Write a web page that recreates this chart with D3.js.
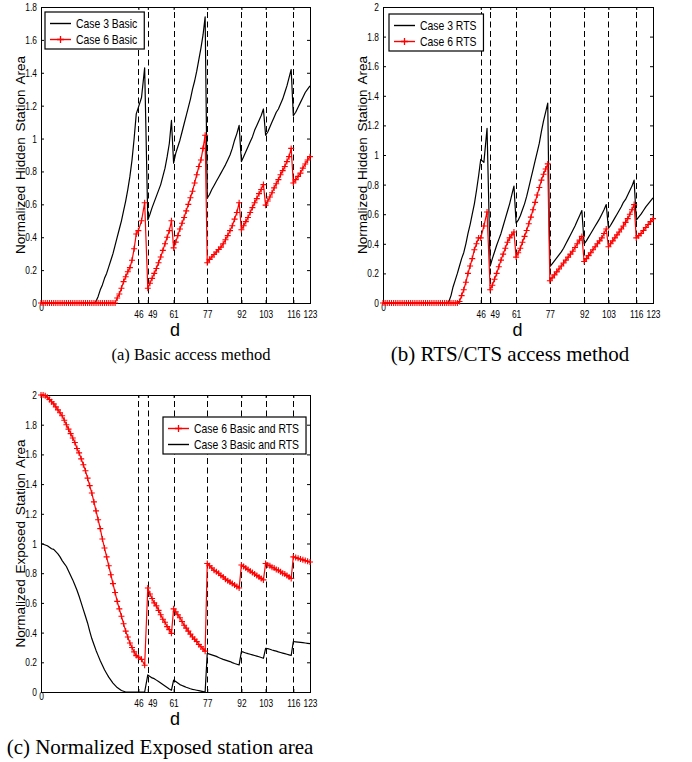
<!DOCTYPE html>
<html><head><meta charset="utf-8">
<script src="https://cdn.jsdelivr.net/npm/d3@7"></script>
<style>body{margin:0;background:#fff}svg{display:block}</style>
</head><body>
<svg id="chart" width="692" height="762"></svg>
<script>
// ---------- data ----------
const dValues = d3.range(0, 124);           // d = 0 .. 123
const xTickValues = [0, 46, 49, 61, 77, 92, 103, 116, 123];
const dashedD = [46, 49, 61, 77, 92, 103, 116];
const yTicksA = [0, 0.2, 0.4, 0.6, 0.8, 1, 1.2, 1.4, 1.6, 1.8];
const yTicksBC = [0, 0.2, 0.4, 0.6, 0.8, 1, 1.2, 1.4, 1.6, 1.8, 2];

const case3Basic = [
0,0,0,0,0,0,0,0,0,0,
0,0,0,0,0,0,0,0,0,0,
0,0,0,0,0,0,0.01,0.04,0.08,0.11,
0.15,0.18,0.22,0.26,0.30,0.35,0.40,0.45,0.50,0.56,
0.62,0.69,0.77,0.87,1.00,1.15,1.19,1.25,1.43,0.505,
0.54,0.58,0.615,0.65,0.685,0.72,0.77,0.82,0.89,0.97,
1.11,0.85,0.91,0.95,0.99,1.04,1.09,1.14,1.19,1.24,
1.30,1.35,1.41,1.48,1.55,1.63,1.74,0.637,0.66,0.69,
0.715,0.74,0.765,0.79,0.815,0.84,0.87,0.90,0.94,0.99,
1.03,1.08,0.86,0.89,0.92,0.95,0.98,1.01,1.05,1.08,
1.11,1.14,1.18,1.02,1.04,1.07,1.10,1.13,1.16,1.18,
1.21,1.24,1.28,1.32,1.37,1.42,1.14,1.16,1.19,1.22,
1.25,1.28,1.30,1.32];

const case6Basic = [
0,0,0,0,0,0,0,0,0,0,
0,0,0,0,0,0,0,0,0,0,
0,0,0,0,0,0,0,0,0,0,
0,0,0,0,0,0,0.03,0.055,0.09,0.13,
0.16,0.19,0.215,0.26,0.33,0.42,0.44,0.50,0.61,0.09,
0.12,0.15,0.18,0.21,0.245,0.28,0.32,0.36,0.40,0.44,
0.50,0.335,0.37,0.41,0.45,0.485,0.52,0.56,0.60,0.64,
0.68,0.73,0.78,0.83,0.87,0.94,1.02,0.245,0.265,0.28,
0.295,0.31,0.325,0.34,0.36,0.385,0.41,0.44,0.47,0.51,
0.55,0.61,0.445,0.47,0.495,0.52,0.55,0.58,0.61,0.635,
0.665,0.69,0.72,0.595,0.62,0.645,0.67,0.70,0.725,0.75,
0.78,0.805,0.83,0.86,0.89,0.94,0.73,0.75,0.77,0.79,
0.82,0.845,0.87,0.89];

const case3RTS = [
0,0,0,0,0,0,0,0,0,0,
0,0,0,0,0,0,0,0,0,0,
0,0,0,0,0,0,0,0,0,0,
0,0.01,0.05,0.11,0.155,0.20,0.25,0.30,0.34,0.40,
0.47,0.53,0.60,0.67,0.76,0.86,0.97,0.95,1.18,0.25,
0.30,0.345,0.39,0.43,0.47,0.52,0.57,0.62,0.67,0.73,
0.79,0.54,0.56,0.59,0.63,0.67,0.72,0.78,0.84,0.90,
0.96,1.02,1.08,1.16,1.23,1.29,1.35,0.245,0.265,0.285,
0.305,0.325,0.345,0.37,0.40,0.43,0.46,0.49,0.52,0.555,
0.59,0.625,0.40,0.42,0.445,0.47,0.495,0.52,0.545,0.57,
0.60,0.63,0.665,0.505,0.525,0.55,0.575,0.60,0.625,0.65,
0.68,0.70,0.73,0.76,0.79,0.83,0.56,0.58,0.60,0.625,
0.65,0.67,0.69,0.71];

const case6RTS = [
0,0,0,0,0,0,0,0,0,0,
0,0,0,0,0,0,0,0,0,0,
0,0,0,0,0,0,0,0,0,0,
0,0,0,0,0,0,0.01,0.05,0.09,0.14,
0.20,0.25,0.30,0.36,0.40,0.44,0.44,0.52,0.615,0.09,
0.12,0.16,0.20,0.245,0.29,0.33,0.37,0.41,0.44,0.46,
0.48,0.31,0.34,0.37,0.41,0.45,0.49,0.535,0.58,0.63,
0.68,0.73,0.78,0.83,0.87,0.905,0.94,0.15,0.17,0.19,
0.21,0.23,0.25,0.27,0.29,0.31,0.33,0.35,0.375,0.40,
0.425,0.45,0.28,0.30,0.32,0.34,0.36,0.38,0.40,0.42,
0.44,0.47,0.50,0.38,0.40,0.42,0.44,0.46,0.48,0.50,
0.52,0.545,0.57,0.60,0.63,0.665,0.44,0.455,0.47,0.49,
0.51,0.53,0.55,0.57];

const case6BasicRTS = [
2.00,2.00,1.995,1.985,1.97,1.955,1.94,1.92,1.90,1.88,
1.86,1.83,1.80,1.77,1.74,1.71,1.68,1.64,1.61,1.57,
1.53,1.49,1.44,1.39,1.34,1.28,1.22,1.16,1.10,1.03,
0.97,0.91,0.85,0.79,0.73,0.67,0.61,0.56,0.51,0.46,
0.41,0.37,0.33,0.30,0.27,0.245,0.235,0.22,0.18,0.70,
0.66,0.63,0.60,0.58,0.55,0.52,0.49,0.47,0.44,0.42,
0.395,0.56,0.54,0.52,0.50,0.475,0.45,0.43,0.41,0.39,
0.37,0.355,0.34,0.32,0.305,0.29,0.275,0.865,0.85,0.835,
0.82,0.81,0.80,0.785,0.775,0.76,0.75,0.74,0.73,0.72,
0.71,0.70,0.855,0.845,0.835,0.825,0.815,0.805,0.795,0.785,
0.775,0.765,0.755,0.865,0.855,0.85,0.84,0.835,0.825,0.82,
0.81,0.80,0.795,0.785,0.775,0.765,0.91,0.905,0.90,0.895,
0.89,0.885,0.88,0.875];

const case3BasicRTS = [
1.00,0.995,0.99,0.985,0.975,0.965,0.96,0.945,0.93,0.91,
0.885,0.865,0.845,0.815,0.785,0.755,0.72,0.685,0.645,0.60,
0.555,0.51,0.465,0.41,0.36,0.32,0.28,0.245,0.21,0.18,
0.15,0.125,0.10,0.08,0.06,0.045,0.03,0.02,0.01,0.005,
0,0,0,0,0,0,0,0,0,0.115,
0.105,0.095,0.09,0.08,0.07,0.06,0.05,0.04,0.03,0.02,
0.012,0.08,0.07,0.06,0.05,0.044,0.038,0.032,0.027,0.022,
0.018,0.015,0.012,0.009,0.006,0.003,0,0.26,0.255,0.25,
0.245,0.24,0.232,0.226,0.22,0.215,0.21,0.205,0.198,0.192,
0.187,0.182,0.272,0.268,0.263,0.258,0.254,0.25,0.246,0.242,
0.237,0.232,0.227,0.294,0.292,0.288,0.283,0.279,0.275,0.27,
0.266,0.262,0.258,0.254,0.25,0.246,0.34,0.338,0.336,0.334,
0.332,0.33,0.328,0.326];

// ---------- drawing ----------
const svg = d3.select("#chart");
const SANS = "'Liberation Sans', Arial, Helvetica, sans-serif";
const SERIF = "'Liberation Serif', 'Times New Roman', serif";
const RED = "#ff0000";
// fraction of axis width at which each x tick sits in the original figure
const xTickFrac = [0, 0.362, 0.397, 0.493, 0.618, 0.745, 0.835, 0.938, 1];

// horizontally condense text (the original uses a narrow Helvetica)
function condense(sel, f) {
  sel.each(function () {
    const L = this.getComputedTextLength();
    d3.select(this).attr("textLength", L * f).attr("lengthAdjust", "spacingAndGlyphs");
  });
}

function drawPanel(cfg) {
  const { left, right, top, bottom, yMax, yTicks, ylabel, ylabelX, series, legend, caption } = cfg;
  const x = d3.scaleLinear().domain(xTickValues)
    .range(xTickFrac.map(f => left + f * (right - left)));
  const y = d3.scaleLinear().domain([0, yMax]).range([bottom, top]);
  const g = svg.append("g");

  // dashed vertical markers
  g.selectAll("line.dash").data(dashedD).join("line")
    .attr("class", "dash")
    .attr("x1", d => Math.round(x(d)) + 0.5).attr("x2", d => Math.round(x(d)) + 0.5)
    .attr("y1", bottom).attr("y2", top)
    .attr("stroke", "#000").attr("stroke-width", 1).attr("stroke-dasharray", "6,3.5");

  // axes (inward ticks on all four sides)
  const fmt = d => String(d);
  const gl = g.append("g").attr("transform", `translate(${left},0)`)
    .call(d3.axisLeft(y).tickValues(yTicks).tickSize(-3).tickPadding(4).tickFormat(fmt));
  const gr = g.append("g").attr("transform", `translate(${right},0)`)
    .call(d3.axisRight(y).tickValues(yTicks).tickSize(-3).tickFormat(""));
  const gb = g.append("g").attr("transform", `translate(0,${bottom})`)
    .call(d3.axisBottom(x).tickValues(xTickValues).tickSize(-3).tickPadding(7).tickFormat(fmt));
  const gt = g.append("g").attr("transform", `translate(0,${top})`)
    .call(d3.axisTop(x).tickValues(xTickValues).tickSize(-3).tickFormat(""));
  [gl, gr, gb, gt].forEach(a => {
    a.select(".domain").remove();
    a.selectAll("text").attr("font-family", SANS).attr("font-size", 11).attr("fill", "#000");
    a.selectAll("line").attr("stroke", "#000");
  });
  gb.selectAll(".tick text").filter(d => d === 0).attr("y", 0);
  gb.selectAll(".tick text").filter(d => d === 49).attr("dx", 4.5);
  condense(gl.selectAll(".tick text"), 0.76);
  condense(gb.selectAll(".tick text"), 0.76);

  // frame
  g.append("rect").attr("x", left + 0.5).attr("y", top + 0.5)
    .attr("width", right - left).attr("height", bottom - top)
    .attr("fill", "none").attr("stroke", "#000").attr("stroke-width", 1);

  // series
  series.forEach(s => {
    const line = d3.line().x((v, i) => x(dValues[i])).y(v => y(v));
    g.append("path").attr("d", line(s.values))
      .attr("fill", "none").attr("stroke", s.color).attr("stroke-width", 1.2)
      .attr("stroke-linejoin", "round");
    if (s.marker) {
      g.append("g").selectAll("path").data(s.values).join("path")
        .attr("d", (v, i) => `M${x(dValues[i]) - 3},${y(v)}h6M${x(dValues[i])},${y(v) - 3}v6`)
        .attr("stroke", s.color).attr("stroke-width", 1.1).attr("fill", "none");
    }
  });

  // axis labels
  g.append("text").attr("x", (left + right) / 2 - 0.5).attr("y", bottom + 33)
    .attr("text-anchor", "middle").attr("font-family", SANS).attr("font-size", 18).text("d");
  g.append("text")
    .attr("transform", `translate(${ylabelX},${(top + bottom) / 2}) rotate(-90)`)
    .attr("text-anchor", "middle")
    .attr("font-family", SANS).attr("font-size", 13.5).attr("word-spacing", 2)
    .text(ylabel);

  // legend
  const lg = g.append("g");
  const box = lg.append("rect").attr("fill", "#fff").attr("stroke", "#000").attr("stroke-width", 1.2);
  let maxW = 0;
  legend.items.forEach((it, k) => {
    const ry = legend.y + 11.5 + 16 * k;
    lg.append("line").attr("x1", legend.x + 5).attr("x2", legend.x + 26)
      .attr("y1", ry).attr("y2", ry).attr("stroke", it.color).attr("stroke-width", 1.4);
    if (it.marker) {
      const cx = legend.x + 15.5;
      lg.append("path").attr("d", `M${cx - 3.5},${ry}h7M${cx},${ry - 3.5}v7`)
        .attr("stroke", it.color).attr("stroke-width", 1.3);
    }
    const t = lg.append("text").attr("x", legend.x + 31).attr("y", ry)
      .attr("dominant-baseline", "central").attr("font-family", SANS)
      .attr("font-size", 13).text(it.label);
    condense(t, 0.8);
    maxW = Math.max(maxW, +t.attr("textLength"));
  });
  box.attr("x", legend.x).attr("y", legend.y).attr("width", 31 + maxW + 7).attr("height", 37);

  // caption
  g.append("text").attr("x", caption.x).attr("y", caption.y).attr("text-anchor", "middle")
    .attr("font-family", SERIF).attr("font-size", caption.size).text(caption.text);
}

drawPanel({
  left: 41, right: 310, top: 7, bottom: 303, yMax: 1.8, yTicks: yTicksA,
  ylabel: "Normalized Hidden Station Area", ylabelX: 24.5,
  series: [
    { values: case3Basic, color: "#000", marker: false },
    { values: case6Basic, color: RED, marker: true }
  ],
  legend: { x: 45, y: 12, items: [
    { label: "Case 3 Basic", color: "#000", marker: false },
    { label: "Case 6 Basic", color: RED, marker: true }
  ]},
  caption: { text: "(a) Basic access method", x: 191, y: 360, size: 16.5 }
});

drawPanel({
  left: 383, right: 653, top: 7, bottom: 303, yMax: 2, yTicks: yTicksBC,
  ylabel: "Normalized Hidden Station Area", ylabelX: 367,
  series: [
    { values: case3RTS, color: "#000", marker: false },
    { values: case6RTS, color: RED, marker: true }
  ],
  legend: { x: 389, y: 14, items: [
    { label: "Case 3 RTS", color: "#000", marker: false },
    { label: "Case 6 RTS", color: RED, marker: true }
  ]},
  caption: { text: "(b) RTS/CTS access method", x: 510, y: 361, size: 21 }
});

drawPanel({
  left: 41, right: 310, top: 395, bottom: 692, yMax: 2, yTicks: yTicksBC,
  ylabel: "Normalized Exposed Station Area", ylabelX: 24.5,
  series: [
    { values: case6BasicRTS, color: RED, marker: true },
    { values: case3BasicRTS, color: "#000", marker: false }
  ],
  legend: { x: 163, y: 417, items: [
    { label: "Case 6 Basic and RTS", color: RED, marker: true },
    { label: "Case 3 Basic and RTS", color: "#000", marker: false }
  ]},
  caption: { text: "(c) Normalized Exposed station area", x: 160, y: 754, size: 21 }
});
</script>
</body></html>
